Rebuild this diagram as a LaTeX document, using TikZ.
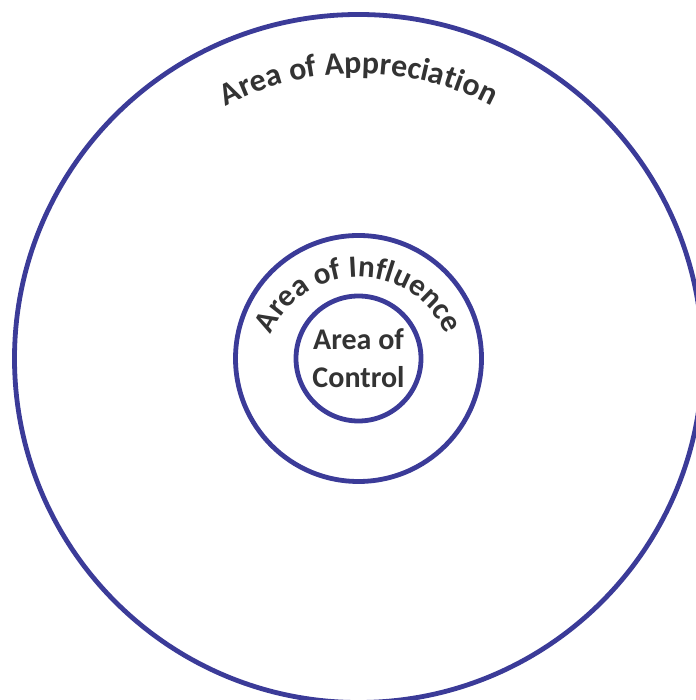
\documentclass[tikz,border=0pt]{standalone}
\usepackage{fontspec}
\setmainfont{Carlito}
\usepackage{xcolor}
\usepackage{tikz}
\usetikzlibrary{decorations.text}
\definecolor{ringblue}{HTML}{3B3B98}
\definecolor{ink}{HTML}{333333}
\newcommand{\arcfont}{\fontsize{31}{38}\selectfont\bfseries}
\tikzset{
    every picture/.style={line cap=round,line join=round},
    ring/.style={draw=ringblue,circle,line width=4.8pt,inner sep=0pt},
    arclabel/.style={decorate,decoration={text along path,text align=center,
      text color=ink}},
    corelabel/.style={text=ink,align=center,font=\fontsize{30}{38}\selectfont\bfseries}
}
\begin{document}
\begin{tikzpicture}[x=1pt,y=1pt]
  \useasboundingbox (0,0) rectangle (695,700);
  \coordinate (c) at (358.5,341.5);
  \coordinate (ci) at (358.5,328);
  \node[ring,minimum size=688pt] (appreciation) at (c) {};
  \node[ring,minimum size=246pt] (influence) at (c) {};
  \node[ring,minimum size=125pt] (control) at (c) {};
  % curved labels
  \path[arclabel,decoration={text={|\fontsize{32}{38}\selectfont\bfseries|Area of Appreciation}}]
    (c) ++(135:285) arc[start angle=135,end angle=45,radius=285];
  \path[arclabel,decoration={text={|\arcfont|Area of Influence}}]
    (ci) ++(175:95) arc[start angle=175,end angle=5,radius=95];
  \node[corelabel] (core) at (c) {Area of\\Control};
\end{tikzpicture}
\end{document}
